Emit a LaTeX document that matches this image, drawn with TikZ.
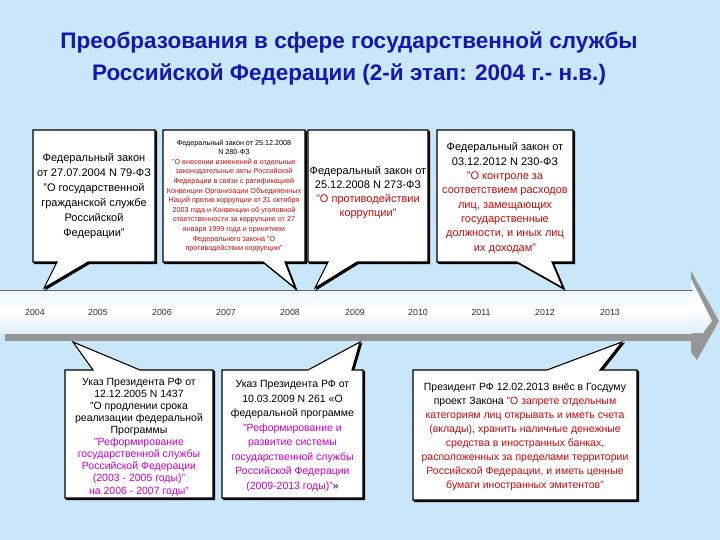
\documentclass[tikz,border=0pt]{standalone}
\usepackage{fontspec}
\setmainfont{Liberation Sans}
\usetikzlibrary{calc}
\definecolor{bg}{RGB}{201,231,248}
\definecolor{ttl}{RGB}{22,22,178}
\definecolor{rd}{RGB}{200,10,10}
\definecolor{mg}{RGB}{200,0,200}
\definecolor{bodytop}{RGB}{236,246,253}
\definecolor{bodybot}{RGB}{222,238,249}
\definecolor{shd}{RGB}{150,150,150}
\begin{document}
\begin{tikzpicture}[x=1pt,y=-1pt,
  callout/.style={fill=white,draw=black,line width=1.1pt,line join=miter,
    preaction={fill=black,draw=black,line width=1.1pt,transform canvas={shift={(1.5pt,-1.5pt)}}}},
  frame/.style={inner sep=0pt,outer sep=0pt},
  txt/.style={align=center,inner sep=0pt},
  yr/.style={font=\fontsize{8.8}{10}\selectfont,text=black!80}]
\fill[bg] (0,0) rectangle (720,540);
\useasboundingbox (0,0) rectangle (720,540);
% title
\node[txt,font=\bfseries\fontsize{22.5}{32}\selectfont,text=ttl] (title) at (349,58)
  {Преобразования в сфере государственной службы\\Российской Федерации (2-й этап: 2004 г.- н.в.)};
% timeline arrow
\fill[shd] (691,271) -- (719,321) -- (697,360) -- (691,352) -- cycle;
\fill[shd] (5,333) rectangle (693,341);
\shade[top color=bodytop,bottom color=bodybot,middle color=white] (0,290) rectangle (692,333);
\shade[top color=bodytop,bottom color=bodybot,middle color=white] (691,279) -- (712,321) -- (703,333) -- (691,333) -- cycle;
\draw[line width=0.8pt,draw=black!60] (0,290) -- (692,290);
\foreach \yy/\xx in {2004/35,2005/98,2006/162,2007/226,2008/290,2009/355,2010/418,2011/481,2012/545,2013/610}
  \node[yr] (y\yy) at (\xx,312) {\yy};
% tips
\coordinate (tA) at (44,288);
\coordinate (tB) at (295,288);
\coordinate (tC) at (315,288);
\coordinate (tD) at (563,288);
\coordinate (tE) at (73,342);
\coordinate (tF) at (360,342);
\coordinate (tG) at (622,342);
% frames
\node[frame,minimum width=122pt,minimum height=132pt] (A) at (94,196) {};
\node[frame,minimum width=142pt,minimum height=132pt] (B) at (234,196) {};
\node[frame,minimum width=120pt,minimum height=132pt] (C) at (368,196) {};
\node[frame,minimum width=136pt,minimum height=132pt] (D) at (505,196) {};
\node[frame,minimum width=148pt,minimum height=128pt] (E) at (139,434) {};
\node[frame,minimum width=141pt,minimum height=128pt] (F) at (292.5,434) {};
\node[frame,minimum width=224pt,minimum height=130pt] (G) at (525,435) {};
% top callouts (pointer down)
\foreach \n/\a/\b in {A/24/55,B/100/122,C/20/49,D/80/115}{
  \draw[callout] (\n.north west) -- (\n.north east) -- (\n.south east)
    -- ($(\n.south west)+(\b,0)$) -- (t\n) -- ($(\n.south west)+(\a,0)$)
    -- (\n.south west) -- cycle;
}
% bottom callouts (pointer up)
\foreach \n/\a/\b in {E/28/75,F/86/130,G/134/187}{
  \draw[callout] (\n.south west) -- (\n.north west)
    -- ($(\n.north west)+(\a,0)$) -- (t\n) -- ($(\n.north west)+(\b,0)$)
    -- (\n.north east) -- (\n.south east) -- cycle;
}
% texts
\node[txt,font=\fontsize{11}{15}\selectfont] (At) at (A.center)
  {Федеральный закон\\от 27.07.2004 N 79-ФЗ\\"О государственной\\гражданской службе\\Российской\\Федерации"};
\node[txt,font=\fontsize{7.2}{9.6}\selectfont] (Bt) at ($(B.center)+(0,0)$)
  {Федеральный закон от 25.12.2008\\N 280-ФЗ\\
  \textcolor{rd}{"О внесении изменений в отдельные}\\
  \textcolor{rd}{законодательные акты Российской}\\
  \textcolor{rd}{Федерации в связи с ратификацией}\\
  \textcolor{rd}{Конвенции Организации Объединенных}\\
  \textcolor{rd}{Наций против коррупции от 31 октября}\\
  \textcolor{rd}{2003 года и Конвенции об уголовной}\\
  \textcolor{rd}{ответственности за коррупцию от 27}\\
  \textcolor{rd}{января 1999 года и принятием}\\
  \textcolor{rd}{Федерального закона "О}\\
  \textcolor{rd}{противодействии коррупции"}};
\node[txt,font=\fontsize{11}{14}\selectfont] (Ct) at ($(C.center)+(0,-3)$)
  {Федеральный закон от\\25.12.2008 N 273-ФЗ\\
  \textcolor{rd}{"О противодействии}\\\textcolor{rd}{коррупции"}};
\node[txt,font=\fontsize{11}{14.3}\selectfont] (Dt) at ($(D.center)+(0,2)$)
  {Федеральный закон от\\03.12.2012 N 230-ФЗ\\
  \textcolor{rd}{"О контроле за}\\
  \textcolor{rd}{соответствием расходов}\\
  \textcolor{rd}{лиц, замещающих}\\
  \textcolor{rd}{государственные}\\
  \textcolor{rd}{должности, и иных лиц}\\
  \textcolor{rd}{их доходам"}};
\node[txt,font=\fontsize{10.5}{12.1}\selectfont] (Et) at ($(E.center)+(0,3)$)
  {Указ Президента РФ от\\12.12.2005 N 1437\\"О продлении срока\\реализации федеральной\\Программы\\
  \textcolor{mg}{"Реформирование}\\
  \textcolor{mg}{государственной службы}\\
  \textcolor{mg}{Российской Федерации}\\
  \textcolor{mg}{(2003 - 2005 годы)"}\\
  \textcolor{mg}{на 2006 - 2007 годы"}};
\node[txt,font=\fontsize{10.5}{14.5}\selectfont] (Ft) at ($(F.center)+(0,2)$)
  {Указ Президента РФ от\\10.03.2009 N 261 «О\\федеральной программе\\
  \textcolor{mg}{"Реформирование и}\\
  \textcolor{mg}{развитие системы}\\
  \textcolor{mg}{государственной службы}\\
  \textcolor{mg}{Российской Федерации}\\
  \textcolor{mg}{(2009-2013 годы)"}»};
\node[txt,font=\fontsize{10.5}{14}\selectfont] (Gt) at ($(G.center)+(0,2)$)
  {Президент РФ 12.02.2013 внёс в Госдуму\\
  проект Закона \textcolor{rd}{"О запрете отдельным}\\
  \textcolor{rd}{категориям лиц открывать и иметь счета}\\
  \textcolor{rd}{(вклады), хранить наличные денежные}\\
  \textcolor{rd}{средства в иностранных банках,}\\
  \textcolor{rd}{расположенных за пределами территории}\\
  \textcolor{rd}{Российской Федерации, и иметь ценные}\\
  \textcolor{rd}{бумаги иностранных эмитентов"}};
\end{tikzpicture}
\end{document}
